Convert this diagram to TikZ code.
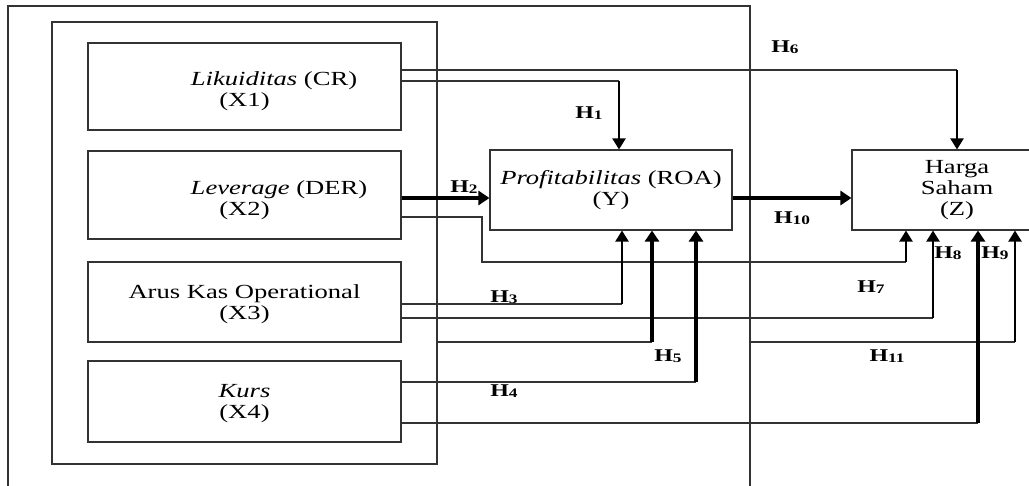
\documentclass[tikz,border=0pt]{standalone}
\usepackage{fontspec}
\setmainfont[FakeStretch=1.33]{Liberation Serif}
\usetikzlibrary{arrows.meta}
\newcommand\hyplab[1]{H\raisebox{-1.5pt}{\fontsize{13}{13}\selectfont #1}}
\begin{document}
\begin{tikzpicture}[x=1pt,y=-1pt,
  box/.style={draw=black!80, line width=1.1pt, inner sep=0pt, align=center,
    font=\fontsize{20}{21}\selectfont},
  frame/.style={draw=black!80, line width=1.1pt, inner sep=0pt},
  thinline/.style={draw=black!80, line width=1.1pt},
  arrmid/.style={draw=black, line width=2.2pt, -{Triangle[width=13pt,length=11pt]}},
  arrthick/.style={draw=black, line width=3.2pt, -{Triangle[width=14pt,length=11pt]}},
  hlab/.style={font=\fontsize{18}{18}\bfseries\selectfont, inner sep=0pt}
]
\useasboundingbox (0,0) rectangle (1029,486);
\clip (0,0) rectangle (1029,486);

% frames
\node[frame, minimum width=742pt, minimum height=514pt] (outer) at (379,263) {};
\node[frame, minimum width=385pt, minimum height=442pt] (inner) at (244.5,243) {};

% variable boxes
\node[box, minimum width=313pt, minimum height=87pt] (x1) at (244.5,86.5)
  {\rule{0pt}{24pt}\hspace*{59pt}\textit{Likuiditas} (CR)\\(X1)};
\node[box, minimum width=313pt, minimum height=88pt] (x2) at (244.5,195)
  {\rule{0pt}{24pt}\hspace*{69pt}\textit{Leverage} (DER)\\(X2)};
\node[box, minimum width=313pt, minimum height=80pt] (x3) at (244.5,302)
  {\rule{0pt}{19pt}Arus Kas Operational\\(X3)};
\node[box, minimum width=313pt, minimum height=81pt] (x4) at (244.5,401.5)
  {\rule{0pt}{18pt}\textit{Kurs}\\(X4)};
\node[box, minimum width=242pt, minimum height=80pt] (y) at (611,190)
  {\textit{Profitabilitas} (ROA)\\(Y)};
\node[box, minimum width=210pt, minimum height=80pt] (z) at (957,190)
  {Harga\\Saham\\(Z)};

% bend coordinates
\coordinate (c6) at (957,70);
\coordinate (c1) at (619,81);
\coordinate (c7a) at (482,217);
\coordinate (c7b) at (482,262);
\coordinate (c7) at (906,262);
\coordinate (c3) at (622,304);
\coordinate (c8) at (933,318);
\coordinate (c5) at (652,342);
\coordinate (c9) at (1015,342);
\coordinate (c4) at (696,382);
\coordinate (c11) at (978,423);

% H6
\draw[thinline] (x1.east |- c6) -- (c6);
\draw[arrmid] (c6) -- (z.north -| c6);
% H1
\draw[thinline] (x1.east |- c1) -- (c1);
\draw[arrmid] (c1) -- (y.north -| c1);
% H2
\draw[arrthick] (x2.east |- 0,198) -- (y.west |- 0,198);
% H7
\draw[thinline] (x2.east |- c7a) -- (c7a) -- (c7b) -- (c7);
\draw[arrmid] (c7) -- (z.south -| c7);
% H3
\draw[thinline] (x3.east |- c3) -- (c3);
\draw[arrmid] (c3) -- (y.south -| c3);
% H8
\draw[thinline] (x3.east |- c8) -- (c8);
\draw[arrmid] (c8) -- (z.south -| c8);
% H5
\draw[thinline] (inner.east |- c5) -- (c5);
\draw[arrthick] (c5) -- (y.south -| c5);
% H9
\draw[thinline] (outer.east |- c9) -- (c9);
\draw[arrmid] (c9) -- (z.south -| c9);
% H4
\draw[thinline] (x4.east |- c4) -- (c4);
\draw[arrthick] (c4) -- (y.south -| c4);
% H11
\draw[thinline] (x4.east |- c11) -- (c11);
\draw[arrthick] (c11) -- (z.south -| c11);
% H10
\draw[arrthick] (y.east |- 0,198) -- (z.west |- 0,198);

% labels
\node[hlab] (h6) at (785,47) {\hyplab{6}};
\node[hlab] (h1) at (589,113) {\hyplab{1}};
\node[hlab] (h2) at (464,187) {\hyplab{2}};
\node[hlab] (h10) at (792,218) {\hyplab{10}};
\node[hlab] (h3) at (504,297) {\hyplab{3}};
\node[hlab] (h4) at (504,391) {\hyplab{4}};
\node[hlab] (h5) at (668,356) {\hyplab{5}};
\node[hlab] (h7) at (871,287) {\hyplab{7}};
\node[hlab] (h8) at (948,253) {\hyplab{8}};
\node[hlab] (h9) at (995,253) {\hyplab{9}};
\node[hlab] (h11) at (887,356) {\hyplab{11}};
\end{tikzpicture}
\end{document}
